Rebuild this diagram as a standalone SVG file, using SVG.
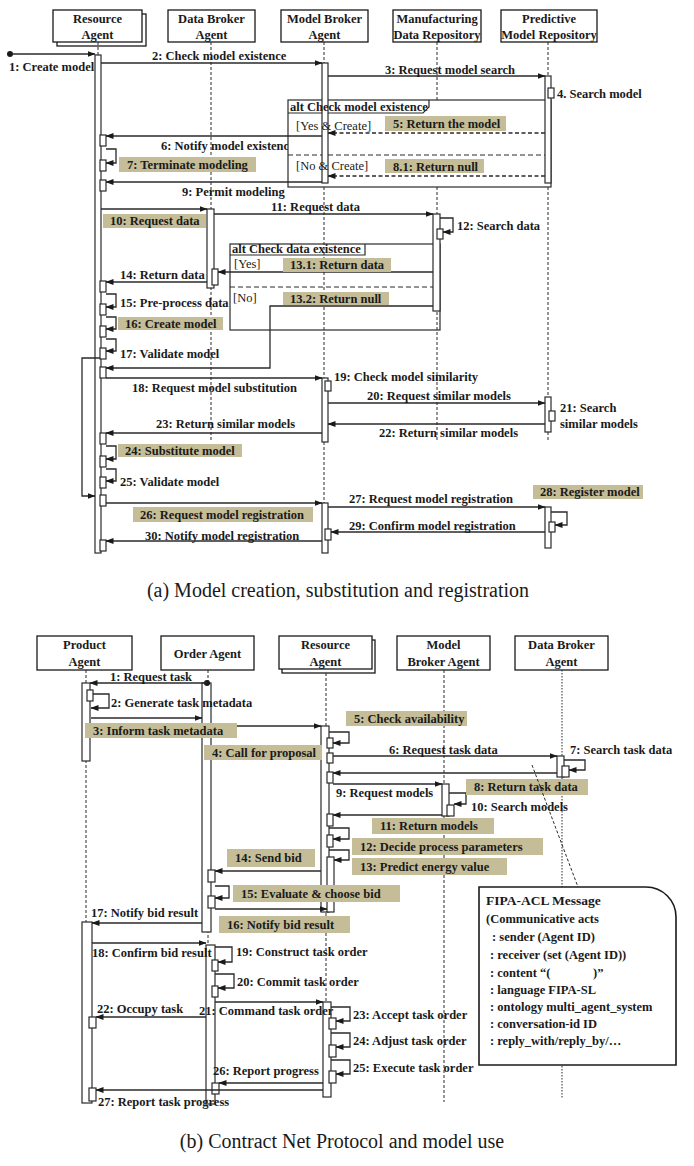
<svg xmlns="http://www.w3.org/2000/svg" width="694" height="1166" viewBox="0 0 694 1166">
<defs>
<style>
.t{font-family:"Liberation Serif","Times New Roman",serif;font-weight:bold;font-size:12.5px;fill:#1a1a1a}
.g{font-weight:normal}
.h{text-anchor:middle}
.cap{font-family:"Liberation Serif","Times New Roman",serif;font-size:20px;fill:#1a1a1a;text-anchor:middle}
.box{fill:#fff;stroke:#1a1a1a;stroke-width:1.3}
.act{fill:#fff;stroke:#2a2a2a;stroke-width:1.2}
.life{stroke:#2a2a2a;stroke-width:1;stroke-dasharray:3 2;fill:none}
.dot{stroke-dasharray:1.5 1.5}
.m{fill:none;stroke:#2a2a2a;stroke-width:1.3;marker-end:url(#ah)}
.r{stroke-dasharray:4 2.5}
.fr{fill:none;stroke:#2a2a2a;stroke-width:1.2}
.sep{fill:none;stroke:#2a2a2a;stroke-width:1.2;stroke-dasharray:5 3}
.tan{fill:#c4bd97}
</style>
<marker id="ah" markerWidth="8" markerHeight="6" refX="7.5" refY="3" orient="auto" markerUnits="userSpaceOnUse"><path d="M0,0 L8,3 L0,6 z" fill="#1a1a1a"/></marker>
<clipPath id="c6"><rect x="0" y="130" width="288" height="30"/></clipPath>
</defs>
<rect width="694" height="1166" fill="#fff"/>

<!-- ===== (a) participants ===== -->
<g id="p-resource-a">
<rect class="box" x="57" y="14" width="89" height="32"/>
<rect class="box" x="53" y="10" width="89" height="32"/>
<text class="t h" x="97.5" y="23">Resource</text>
<text class="t h" x="97.5" y="39">Agent</text>
<line class="life" x1="98" y1="42" x2="98" y2="55"/>
</g>
<g id="p-databroker-a">
<rect class="box" x="168" y="10" width="87" height="32"/>
<text class="t h" x="211.5" y="23">Data Broker</text>
<text class="t h" x="211.5" y="39">Agent</text>
<line class="life" x1="211" y1="42" x2="211" y2="442"/>
</g>
<g id="p-modelbroker-a">
<rect class="box" x="281" y="10" width="87" height="32"/>
<text class="t h" x="324.5" y="23">Model Broker</text>
<text class="t h" x="324.5" y="39">Agent</text>
<line class="life" x1="324" y1="42" x2="324" y2="503"/>
</g>
<g id="p-mfgrepo">
<rect class="box" x="393" y="10" width="88" height="32"/>
<text class="t h" x="437" y="23">Manufacturing</text>
<text class="t h" x="437" y="39">Data Repository</text>
<line class="life" x1="437" y1="42" x2="437" y2="440"/>
</g>
<g id="p-predrepo">
<rect class="box" x="501" y="10" width="96" height="32"/>
<text class="t h" x="549" y="23">Predictive</text>
<text class="t h" x="549" y="39">Model Repository</text>
<line class="life" x1="548" y1="42" x2="548" y2="440"/>
</g>

<!-- label 6 (partly hidden behind frame) -->
<text class="t" x="161" y="150" clip-path="url(#c6)">6: Notify model existence</text>

<!-- frames -->
<g id="alt-model">
<rect x="288" y="100" width="263" height="87" fill="#fff" stroke="#2a2a2a" stroke-width="1.2"/>
<path class="fr" d="M288,113 H423 L429,107 V100"/>
<line class="sep" x1="288" y1="155" x2="545" y2="155"/>
</g>
<g id="alt-data">
<rect class="fr" x="230" y="244" width="210" height="86"/>
<path class="fr" d="M230,255 H365 V244"/>
<line class="sep" x1="230" y1="287" x2="433" y2="287"/>
</g>

<!-- activations (a) -->
<g id="act-resource-a">
<rect class="act" x="95" y="55" width="6" height="498"/>
<rect class="act" x="100" y="135" width="6" height="11"/>
<rect class="act" x="100" y="160" width="6" height="11"/>
<rect class="act" x="100" y="180" width="6" height="11"/>
<rect class="act" x="100" y="281" width="6" height="11"/>
<rect class="act" x="100" y="304" width="6" height="11"/>
<rect class="act" x="100" y="326" width="6" height="11"/>
<rect class="act" x="100" y="348" width="6" height="11"/>
<rect class="act" x="100" y="367" width="6" height="11"/>
<rect class="act" x="100" y="433" width="6" height="11"/>
<rect class="act" x="100" y="456" width="6" height="11"/>
<rect class="act" x="100" y="477" width="6" height="11"/>
<rect class="act" x="100" y="495" width="6" height="11"/>
<rect class="act" x="100" y="540" width="6" height="11"/>
</g>
<g id="act-databroker-a">
<rect class="act" x="207" y="209" width="7" height="79"/>
<rect class="act" x="212" y="269" width="6" height="16"/>
</g>
<g id="act-mfgrepo">
<rect class="act" x="433" y="214" width="7" height="97"/>
<rect class="act" x="437" y="229" width="6" height="10"/>
</g>
<g id="act-modelbroker-a">
<rect class="act" x="322" y="63" width="6" height="120"/>
<rect class="act" x="322" y="378" width="6" height="64"/>
<rect class="act" x="325" y="381" width="6" height="10"/>
<rect class="act" x="322" y="503" width="6" height="50"/>
<rect class="act" x="325" y="529" width="6" height="11"/>
</g>
<g id="act-predrepo">
<rect class="act" x="545" y="76" width="6" height="107"/>
<rect class="act" x="548" y="88" width="6" height="10"/>
<rect class="act" x="545" y="397" width="6" height="35"/>
<rect class="act" x="549" y="411" width="6" height="10"/>
<rect class="act" x="545" y="507" width="6" height="41"/>
<rect class="act" x="549" y="522" width="6" height="10"/>
</g>

<!-- connectors (a) -->
<g id="connectors-a">
<circle cx="10" cy="54" r="3" fill="#1a1a1a"/>
<path class="m" d="M13,54 H95"/>
<path class="m" d="M101,63 H322"/>
<path class="m" d="M328,76 H545"/>
<path class="m r" d="M545,133 H328"/>
<path class="m" d="M322,136 H106"/>
<path class="m" d="M106,149 H116 V163 H106"/>
<path class="m r" d="M545,176 H328"/>
<path class="m" d="M322,182 H106"/>
<path class="m" d="M101,209 H207"/>
<path class="m" d="M214,214 H433"/>
<path class="m" d="M440,218 H453 V232 H443"/>
<path class="m" d="M433,272 H218"/>
<path class="m" d="M207,282 H106"/>
<path class="m" d="M433,306 H270 V368 H106"/>
<path class="m" d="M106,294 H116 V307 H106"/>
<path class="m" d="M106,317 H116 V329 H106"/>
<path class="m" d="M106,339 H116 V351 H106"/>
<path class="m" d="M100,358 H82 V496 H95"/>
<path class="m" d="M106,378 H322"/>
<path class="m" d="M328,403 H545"/>
<path class="m" d="M545,424 H328"/>
<path class="m" d="M322,433 H106"/>
<path class="m" d="M106,446 H116 V459 H106"/>
<path class="m" d="M106,469 H116 V481 H106"/>
<path class="m" d="M106,503 H322"/>
<path class="m" d="M328,507 H545"/>
<path class="m" d="M551,512 H567 V525 H555"/>
<path class="m" d="M545,532 H331"/>
<path class="m" d="M322,541 H106"/>
</g>

<!-- labels (a) -->
<g id="labels-a">
<text class="t" x="290" y="111">alt Check model existence</text>
<text class="t g" x="296" y="130">[Yes &amp; Create]</text>
<text class="t g" x="296" y="170">[No &amp; Create]</text>
<text class="t" x="232" y="253">alt Check data existence</text>
<text class="t g" x="234" y="268">[Yes]</text>
<text class="t g" x="233" y="302">[No]</text>
<text class="t" x="9" y="71">1: Create model</text>
<text class="t" x="152" y="60">2: Check model existence</text>
<text class="t" x="385" y="74">3: Request model search</text>
<text class="t" x="557" y="98">4. Search model</text>
<rect class="tan" x="385" y="116" width="121" height="15"/>
<text class="t" x="393" y="128">5: Return the model</text>
<rect class="tan" x="119" y="157" width="137" height="15"/>
<text class="t" x="127" y="169">7: Terminate modeling</text>
<rect class="tan" x="385" y="159" width="99" height="14"/>
<text class="t" x="393" y="171">8.1: Return null</text>
<text class="t" x="182" y="196">9: Permit modeling</text>
<rect class="tan" x="103" y="214" width="103" height="14"/>
<text class="t" x="110" y="225">10: Request data</text>
<text class="t" x="271" y="211">11: Request data</text>
<text class="t" x="457" y="230">12: Search data</text>
<rect class="tan" x="283" y="258" width="108" height="14"/>
<text class="t" x="290" y="269">13.1: Return data</text>
<rect class="tan" x="283" y="292" width="106" height="13"/>
<text class="t" x="290" y="303">13.2: Return null</text>
<text class="t" x="120" y="279">14: Return data</text>
<text class="t" x="120" y="307">15: Pre-process data</text>
<rect class="tan" x="118" y="317" width="105" height="13"/>
<text class="t" x="125" y="328">16: Create model</text>
<text class="t" x="120" y="358">17: Validate model</text>
<text class="t" x="132" y="392">18: Request model substitution</text>
<text class="t" x="334" y="381">19: Check model similarity</text>
<text class="t" x="367" y="400">20: Request similar models</text>
<text class="t" x="560" y="412">21: Search</text>
<text class="t" x="560" y="428">similar models</text>
<text class="t" x="379" y="437">22: Return similar models</text>
<text class="t" x="156" y="428">23: Return similar models</text>
<rect class="tan" x="118" y="444" width="124" height="13"/>
<text class="t" x="125" y="455">24: Substitute model</text>
<text class="t" x="120" y="486">25: Validate model</text>
<rect class="tan" x="133" y="507" width="180" height="15"/>
<text class="t" x="140" y="519">26: Request model registration</text>
<text class="t" x="349" y="503">27: Request model registration</text>
<rect class="tan" x="533" y="485" width="110" height="14"/>
<text class="t" x="540" y="496">28: Register model</text>
<text class="t" x="349" y="530">29: Confirm model registration</text>
<text class="t" x="145" y="540">30: Notify model registration</text>
</g>

<text class="cap" x="338" y="597">(a) Model creation, substitution and registration</text>

<!-- ===== (b) participants ===== -->
<g id="p-product">
<rect class="box" x="37" y="636" width="95" height="34"/>
<text class="t h" x="84.5" y="649">Product</text>
<text class="t h" x="84.5" y="666">Agent</text>
<line class="life" x1="86" y1="670" x2="86" y2="922"/>
</g>
<g id="p-order">
<rect class="box" x="161" y="636" width="93" height="34"/>
<text class="t h" x="207.5" y="658">Order Agent</text>
<line class="life" x1="208" y1="670" x2="208" y2="945"/>
</g>
<g id="p-resource-b">
<rect class="box" x="282" y="640" width="93" height="33"/>
<rect class="box" x="279" y="636" width="93" height="33"/>
<text class="t h" x="325.5" y="649">Resource</text>
<text class="t h" x="325.5" y="666">Agent</text>
<line class="life" x1="326" y1="673" x2="326" y2="1002"/>
</g>
<g id="p-modelbroker-b">
<rect class="box" x="397" y="636" width="93" height="34"/>
<text class="t h" x="443.5" y="649">Model</text>
<text class="t h" x="443.5" y="666">Broker Agent</text>
<line class="life" x1="444" y1="670" x2="444" y2="1102"/>
</g>
<g id="p-databroker-b">
<rect class="box" x="515" y="636" width="93" height="34"/>
<text class="t h" x="561.5" y="649">Data Broker</text>
<text class="t h" x="561.5" y="666">Agent</text>
<line class="life dot" x1="562" y1="670" x2="562" y2="1098"/>
</g>

<!-- activations (b) -->
<g id="act-product">
<rect class="act" x="82" y="683" width="8" height="78"/>
<rect class="act" x="87" y="690" width="6" height="11"/>
<rect class="act" x="82" y="922" width="10" height="181"/>
<rect class="act" x="89" y="1017" width="7" height="11"/>
<rect class="act" x="89" y="1088" width="7" height="13"/>
</g>
<g id="act-order">
<rect class="act" x="202" y="683" width="9" height="249"/>
<rect class="act" x="208" y="870" width="7" height="12"/>
<rect class="act" x="208" y="896" width="7" height="12"/>
<rect class="act" x="206" y="945" width="9" height="159"/>
<rect class="act" x="212" y="960" width="6" height="11"/>
<rect class="act" x="212" y="986" width="6" height="11"/>
<rect class="act" x="212" y="1083" width="7" height="11"/>
</g>
<g id="act-resource-b">
<rect class="act" x="321" y="726" width="8" height="186"/>
<rect class="act" x="327" y="738" width="6" height="10"/>
<rect class="act" x="327" y="753" width="6" height="10"/>
<rect class="act" x="327" y="772" width="6" height="11"/>
<rect class="act" x="327" y="814" width="6" height="12"/>
<rect class="act" x="327" y="835" width="6" height="12"/>
<rect class="act" x="327" y="857" width="7" height="55"/>
<rect class="act" x="323" y="1002" width="8" height="95"/>
<rect class="act" x="329" y="1018" width="7" height="11"/>
<rect class="act" x="329" y="1045" width="7" height="12"/>
<rect class="act" x="329" y="1071" width="7" height="12"/>
</g>
<g id="act-modelbroker-b">
<rect class="act" x="442" y="784" width="7" height="32"/>
<rect class="act" x="447" y="805" width="7" height="11"/>
</g>
<g id="act-databroker-b">
<rect class="act" x="557" y="756" width="7" height="21"/>
<rect class="act" x="562" y="766" width="7" height="11"/>
</g>

<!-- note -->
<g id="note-fipa">
<path d="M479,887 H646 A30,30 0 0 1 676,917 V1065 H479 Z" fill="#fff" stroke="#1a1a1a" stroke-width="1.6"/>
<text class="t" x="486" y="905" style="font-size:13.5px">FIPA-ACL Message</text>
<text class="t" x="486" y="923">(Communicative acts</text>
<text class="t" x="492" y="941">: sender (Agent ID)</text>
<text class="t" x="490" y="959">: receiver (set (Agent ID))</text>
<text class="t" x="490" y="977">: content “(<tspan x="593">)”</tspan></text>
<text class="t" x="490" y="994">: language FIPA-SL</text>
<text class="t" x="490" y="1011">: ontology multi_agent_system</text>
<text class="t" x="490" y="1028">: conversation-id ID</text>
<text class="t" x="490" y="1045">: reply_with/reply_by/…</text>
</g>

<!-- connectors (b) -->
<g id="connectors-b">
<circle cx="207" cy="683" r="3" fill="#1a1a1a"/>
<path class="m" d="M207,683 H90"/>
<path class="m" d="M93,694 H109 V708 H91"/>
<path class="m" d="M91,718 H202"/>
<path class="m" d="M211,726 H321"/>
<path class="m" d="M329,732 H349 V743 H333"/>
<path class="m" d="M333,756 H557"/>
<path class="m" d="M564,760 H585 V770 H569"/>
<path class="m" d="M557,773 H333"/>
<path class="m" d="M333,784 H442"/>
<path class="m" d="M449,793 H466 V804 H454"/>
<path class="m" d="M442,815 H333"/>
<path class="m" d="M329,828 H349 V839 H333"/>
<path class="m" d="M329,850 H349 V860 H334"/>
<path class="m" d="M321,871 H215"/>
<path class="m" d="M215,886 H229 V898 H215"/>
<path class="m" d="M215,909 H327"/>
<path class="m" d="M202,923 H92"/>
<path class="m" d="M92,943 H206"/>
<path class="m" d="M215,947 H232 V962 H218"/>
<path class="m" d="M215,974 H234 V988 H218"/>
<path class="m" d="M215,1002 H323"/>
<path class="m" d="M206,1017 H96"/>
<path class="m" d="M331,1007 H350 V1021 H336"/>
<path class="m" d="M331,1033 H350 V1047 H336"/>
<path class="m" d="M331,1060 H350 V1074 H336"/>
<path class="m" d="M323,1083 H219"/>
<path class="m" d="M323,1090 H96"/>
</g>

<!-- labels (b) -->
<g id="labels-b">
<text class="t" x="110" y="681">1: Request task</text>
<text class="t" x="111" y="707">2: Generate task metadata</text>
<rect class="tan" x="85" y="723" width="152" height="15"/>
<text class="t" x="93" y="735">3: Inform task metadata</text>
<rect class="tan" x="204" y="745" width="118" height="15"/>
<text class="t" x="212" y="757">4: Call for proposal</text>
<rect class="tan" x="346" y="711" width="121" height="15"/>
<text class="t" x="354" y="723">5: Check availability</text>
<text class="t" x="389" y="754">6: Request task data</text>
<text class="t" x="570" y="754">7: Search task data</text>
<rect class="tan" x="466" y="779" width="122" height="16"/>
<text class="t" x="474" y="791">8: Return task data</text>
<text class="t" x="336" y="797">9: Request models</text>
<text class="t" x="471" y="811">10: Search models</text>
<rect class="tan" x="372" y="818" width="122" height="16"/>
<text class="t" x="380" y="830">11: Return models</text>
<rect class="tan" x="352" y="838" width="191" height="17"/>
<text class="t" x="360" y="851">12: Decide process parameters</text>
<rect class="tan" x="352" y="858" width="155" height="17"/>
<text class="t" x="360" y="871">13: Predict energy value</text>
<rect class="tan" x="227" y="849" width="88" height="18"/>
<text class="t" x="235" y="862">14: Send bid</text>
<rect class="tan" x="233" y="885" width="167" height="17"/>
<text class="t" x="241" y="898">15: Evaluate &amp; choose bid</text>
<rect class="tan" x="219" y="916" width="131" height="17"/>
<text class="t" x="227" y="929">16: Notify bid result</text>
<text class="t" x="91" y="917">17: Notify bid result</text>
<text class="t" x="92" y="957">18: Confirm bid result</text>
<text class="t" x="236" y="956">19: Construct task order</text>
<text class="t" x="237" y="986">20: Commit task order</text>
<text class="t" x="199" y="1015">21: Command task order</text>
<text class="t" x="97" y="1013">22: Occupy task</text>
<text class="t" x="353" y="1019">23: Accept task order</text>
<text class="t" x="353" y="1045">24: Adjust task order</text>
<text class="t" x="353" y="1072">25: Execute task order</text>
<text class="t" x="213" y="1075">26: Report progress</text>
<text class="t" x="98" y="1106">27: Report task progress</text>
<line class="life" x1="532" y1="765" x2="578" y2="887"/>
</g>

<text class="cap" x="342" y="1148">(b) Contract Net Protocol and model use</text>
</svg>
